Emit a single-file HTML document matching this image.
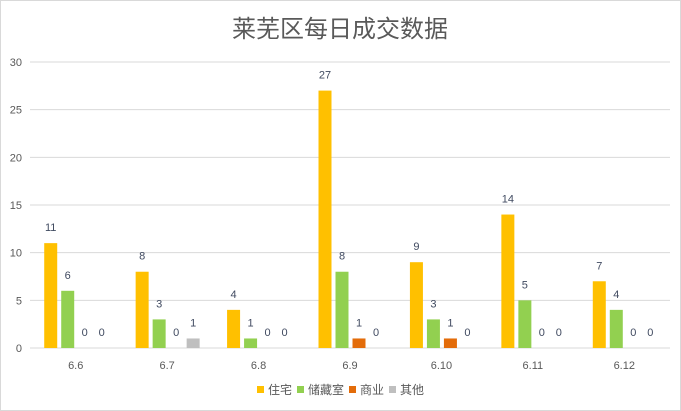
<!DOCTYPE html>
<html><head><meta charset="utf-8"><style>
body{margin:0;background:#fff;}
svg{display:block;font-family:"Liberation Sans","Noto Sans CJK SC",sans-serif;}
</style></head><body>
<svg id="c" width="681" height="411">
<rect x="0.5" y="0.5" width="680" height="410" fill="#fff" stroke="#d9d9d9"/>
<text x="340" y="37" text-anchor="middle" font-size="24" fill="#595959" font-family="'Noto Sans CJK SC',sans-serif">莱芜区每日成交数据</text>
<g id="grid"></g><g id="bars"></g>
<g font-size="12" fill="#595959" font-family="'Noto Sans CJK SC',sans-serif">
<rect x="257" y="386" width="7" height="7" fill="#ffc000"/><text x="268" y="394">住宅</text>
<rect x="297" y="386" width="7" height="7" fill="#92d050"/><text x="308" y="394">储藏室</text>
<rect x="349" y="386" width="7" height="7" fill="#e36c0a"/><text x="360" y="394">商业</text>
<rect x="389" y="386" width="7" height="7" fill="#bfbfbf"/><text x="400" y="394">其他</text>
</g>
</svg>
<script>
const categories=["6.6","6.7","6.8","6.9","6.10","6.11","6.12"];
const zhuzhai=[11,8,4,27,9,14,7];
const chucangshi=[6,3,1,8,3,5,4];
const shangye=[0,0,0,1,1,0,0];
const qita=[0,1,0,0,0,0,0];
const yTicks=[0,5,10,15,20,25,30];
const seriesNames=["zhuzhai","chucangshi","shangye","qita"];
const NS="http://www.w3.org/2000/svg";
const x0=30,x1=670,y0=348,y1=62,yMax=30;
const y=v=>y0-(v/yMax)*(y0-y1);
const band=(x1-x0)/categories.length;
const xc=i=>x0+band*(i+0.5);
function mk(t,a,p){const e=document.createElementNS(NS,t);for(const k in a)e.setAttribute(k,a[k]);p.appendChild(e);return e;}
const g=document.getElementById('grid');
yTicks.forEach(t=>{
 const l=mk('line',{x1:x0,x2:x1,y1:y(t),y2:y(t),stroke:'#d9d9d9','stroke-width':1},g);
 
 
 const tx=mk('text',{x:22,y:y(t)+4,'text-anchor':'end','font-size':11,fill:'#595959'},g);
 tx.textContent=t;
 
 
});
const b=document.getElementById('bars');
const series=[zhuzhai,chucangshi,shangye,qita];
const colors=["#ffc000","#92d050","#e36c0a","#bfbfbf"];
const offs=[-25,-8,9,26],bw=13;
categories.forEach((c,i)=>{
 const t=mk('text',{x:xc(i),y:369,'text-anchor':'middle','font-size':11,fill:'#595959'},b);
 t.textContent=c;
 
 
 series.forEach((s,j)=>{
  const v=s[i],cx=xc(i)+offs[j];
  if(v>0){const r=mk('rect',{x:cx-bw/2,y:y(v),width:bw,height:y0-y(v),fill:colors[j]},b);
   
   }
  const lb=mk('text',{x:cx,y:y(v)-12,'text-anchor':'middle','font-size':11,fill:'#404a60'},b);
  lb.textContent=v;
  
  
 });
});
</script>
</body></html>
